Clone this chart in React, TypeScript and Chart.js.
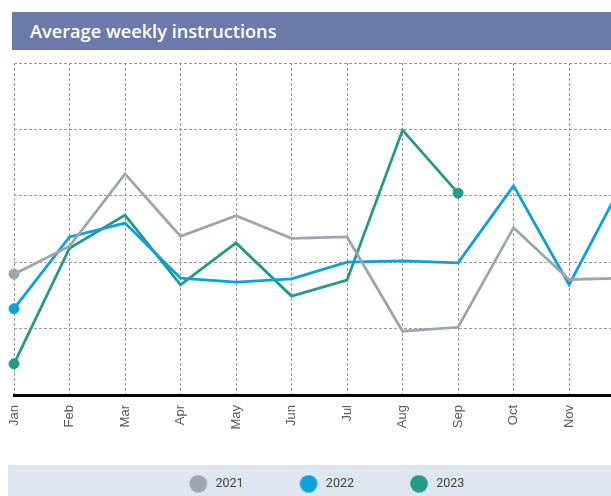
import React, { useEffect, useRef } from "react";
import { Chart, registerables } from "chart.js";

Chart.register(...registerables);

const months = ["Jan", "Feb", "Mar", "Apr", "May", "Jun", "Jul", "Aug", "Sep", "Oct", "Nov", "Dec"];
const series2021 = [18.2, 22.4, 33.3, 23.9, 27.0, 23.6, 23.8, 9.6, 10.2, 25.2, 17.4, 17.6];
const series2022 = [13.0, 23.8, 25.9, 17.6, 17.0, 17.5, 20.0, 20.2, 19.9, 31.5, 16.6, 32.5];
const series2023 = [4.7, 22.1, 27.1, 16.6, 22.9, 14.9, 17.3, 39.9, 30.4];
const seriesLabels = ["2021", "2022", "2023"];
const seriesColors = ["#9ca6ad", "#0ba1db", "#239a87"];
const yMin = 0;
const yMax = 50;
const yStep = 10;

const W = 640;
const H = 492;

function makeDot(color: string): HTMLCanvasElement {
  const c = document.createElement("canvas");
  c.width = 36;
  c.height = 18;
  const g = c.getContext("2d")!;
  g.fillStyle = color;
  g.beginPath();
  g.arc(25, 9, 8.8, 0, Math.PI * 2);
  g.fill();
  return c;
}

const legendBg = {
  id: "legendBg",
  beforeDraw(chart: any) {
    const ctx = chart.ctx;
    ctx.save();
    ctx.fillStyle = "#dfe6ef";
    ctx.fillRect(0, 457, chart.width, chart.height - 457);
    ctx.restore();
  },
};

export default function App() {
  const ref = useRef<HTMLCanvasElement | null>(null);

  useEffect(() => {
    if (!ref.current) return;
    const seriesData = [series2021, series2022, series2023];
    const radiusFn = (ctx: any) =>
      ctx.dataIndex === 0 || ctx.dataIndex === ctx.dataset.data.length - 1 ? 5 : 0;
    const chart = new Chart(ref.current, {
      type: "line",
      data: {
        labels: months,
        datasets: seriesData.map((d, i) => ({
          label: seriesLabels[i],
          data: d,
          borderColor: seriesColors[i],
          backgroundColor: seriesColors[i],
          borderWidth: 2.8,
          tension: 0,
          pointRadius: radiusFn,
          pointBorderWidth: 1,
          pointBackgroundColor: seriesColors[i],
          pointBorderColor: seriesColors[i],
          clip: false as any,
        })),
      },
      options: {
        responsive: false,
        animation: false,
        events: [],
        layout: { padding: { left: 5, right: 23.4, top: 55, bottom: 0 } },
        plugins: {
          tooltip: { enabled: false },
          title: { display: false },
          legend: {
            display: true,
            position: "bottom",
            labels: {
              usePointStyle: true,
              pointStyleWidth: 36,
              boxHeight: 14,
              padding: 40,
              color: "#404040",
              font: {
                family: "Roboto, 'Noto Sans', sans-serif",
                size: 12.5,
              },
              generateLabels: (ch: any) =>
                ch.data.datasets.map((ds: any, i: number) => ({
                  text: ds.label,
                  pointStyle: makeDot(seriesColors[i]),
                  fillStyle: seriesColors[i],
                  strokeStyle: seriesColors[i],
                  lineWidth: 0,
                  hidden: false,
                  datasetIndex: i,
                  fontColor: "#404040",
                })),
            },
          },
        },
        scales: {
          x: {
            type: "category",
            offset: false,
            grid: {
              display: true,
              color: "#9a9a9a",
              lineWidth: 1,
              drawTicks: false,
            },
            border: { display: true, color: "#000000", width: 3, dash: [3, 2] },
            ticks: {
              autoSkip: false,
              maxRotation: 90,
              minRotation: 90,
              padding: 10,
              color: "#595959",
              font: { family: "'Liberation Sans', Arial, sans-serif", size: 13 },
            },
            afterFit: (s: any) => {
              s.height = 42.5;
              s.paddingLeft = 0;
              s.paddingRight = 0;
            },
          },
          y: {
            min: yMin,
            max: yMax,
            ticks: { display: false, stepSize: yStep },
            grid: {
              color: (c: any) => (c.tick && c.tick.value === yMin ? "rgba(0,0,0,0)" : "#9a9a9a"),
              lineWidth: 1,
              drawTicks: false,
            },
            border: { display: false, dash: [3, 2] },
            afterFit: (s: any) => {
              s.width = 0;
            },
          },
        },
      },
      plugins: [legendBg],
    } as any);
    return () => chart.destroy();
  }, []);

  return (
    <div
      style={{
        position: "fixed",
        left: 8,
        top: 8,
        right: 0,
        bottom: 0,
        overflow: "hidden",
      }}
    >
      <canvas
        ref={ref}
        width={W}
        height={H}
        style={{ position: "absolute", left: 0, top: 0, width: W, height: H }}
      />
      <div
        style={{
          position: "absolute",
          left: 4,
          top: 4,
          right: 0,
          height: 38,
          background: "#6b79ab",
          color: "#ffffff",
          fontFamily: "'Open Sans', sans-serif",
          fontWeight: 600,
          fontSize: 18.2,
          lineHeight: "38px",
          paddingLeft: 18,
          boxSizing: "border-box",
          whiteSpace: "nowrap",
        }}
      >
        Average weekly instructions
      </div>
    </div>
  );
}
